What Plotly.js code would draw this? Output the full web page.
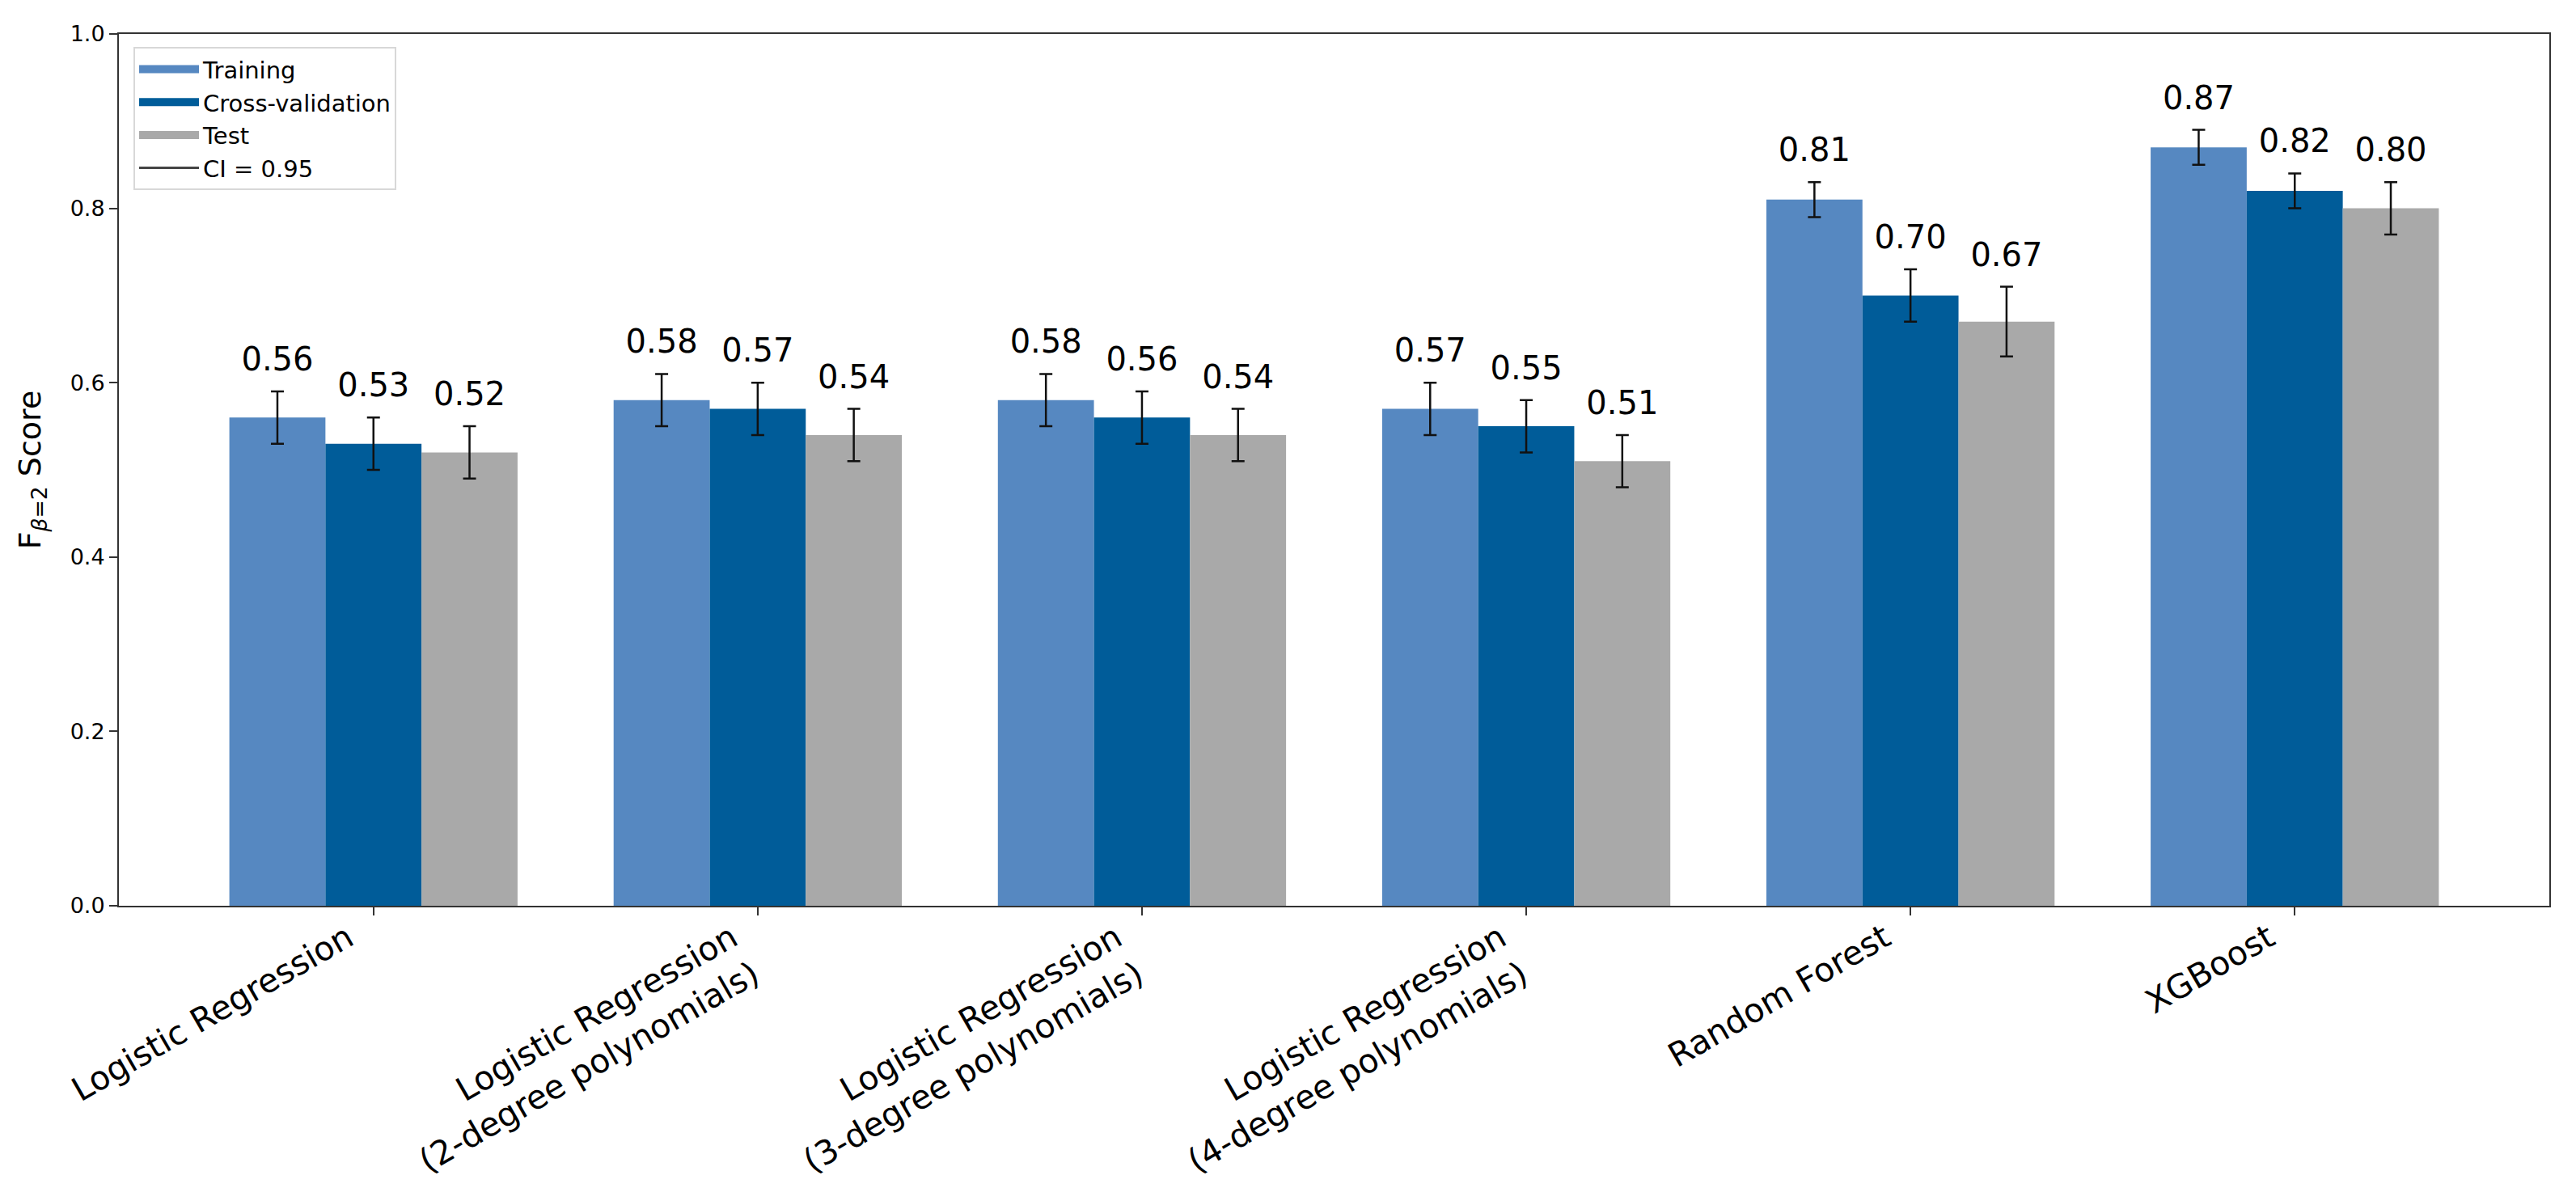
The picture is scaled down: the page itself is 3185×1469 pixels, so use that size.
<!DOCTYPE html>
<html>
<head>
<meta charset="utf-8">
<script src="https://cdn.plot.ly/plotly-3.0.1.min.js"></script>
<style>
  html, body { margin: 0; padding: 0; background: #ffffff; }
  #chart { width: 3185px; height: 1469px; }
</style>
</head>
<body>
<div id="chart"></div>
<script>
// ---- data ----
const categories = [
  "Logistic Regression",
  "Logistic Regression<br>(2-degree polynomials)",
  "Logistic Regression<br>(3-degree polynomials)",
  "Logistic Regression<br>(4-degree polynomials)",
  "Random Forest",
  "XGBoost"
];
const seriesNames = ["Training", "Cross-validation", "Test"];
const trainingScores = [0.56, 0.58, 0.58, 0.57, 0.81, 0.87];
const cvScores       = [0.53, 0.57, 0.56, 0.55, 0.70, 0.82];
const testScores     = [0.52, 0.54, 0.54, 0.51, 0.67, 0.80];
const trainingCI = [0.03, 0.03, 0.03, 0.03, 0.02, 0.02];
const cvCI       = [0.03, 0.03, 0.03, 0.03, 0.03, 0.02];
const testCI     = [0.03, 0.03, 0.03, 0.03, 0.04, 0.03];
const ciLabel = "CI = 0.95";
const yTickVals = [0.0, 0.2, 0.4, 0.6, 0.8, 1.0];

// ---- styling ----
const colors = ["#5688c1", "#005c99", "#a9a9a9"];
const FONT = "DejaVu Sans, Liberation Sans, sans-serif";
const barWidth = 0.25;
const offsets = [-barWidth, 0, barWidth];

const xIdx = categories.map((_, i) => i);
const allScores = [trainingScores, cvScores, testScores];
const allCI = [trainingCI, cvCI, testCI];

const traces = [];
allScores.forEach((vals, s) => {
  traces.push({
    type: "bar",
    name: seriesNames[s],
    x: xIdx,
    y: vals,
    marker: { color: colors[s], line: { width: 0 } },
    error_y: {
      type: "data",
      array: allCI[s],
      visible: true,
      color: "#111111",
      thickness: 2.5,
      width: 8
    },
    showlegend: false,
    hoverinfo: "y"
  });
});

// value labels above the error bars
allScores.forEach((vals, s) => {
  traces.push({
    type: "scatter",
    mode: "markers+text",
    x: xIdx.map(i => i + offsets[s]),
    y: vals.map((v, i) => v + allCI[s][i]),
    text: vals.map(v => v.toFixed(2)),
    textposition: "top center",
    textfont: { family: FONT, size: 40, color: "#000000" },
    marker: { size: 24, opacity: 0, color: "#ffffff" },
    showlegend: false,
    hoverinfo: "skip",
    cliponaxis: false
  });
});

// legend entries (wide colour swatches like the original legend)
seriesNames.forEach((name, s) => {
  traces.push({
    type: "scatter",
    mode: "lines",
    name: name,
    legendgroup: "g" + s,
    x: [null],
    y: [null],
    line: { color: colors[s], width: 10 },
    hoverinfo: "skip"
  });
});
traces.push({
  type: "scatter",
  mode: "lines",
  name: ciLabel,
  legendgroup: "ci",
  x: [null],
  y: [null],
  line: { color: "#444444", width: 3 },
  hoverinfo: "skip"
});

const layout = {
  width: 3185,
  height: 1469,
  paper_bgcolor: "#ffffff",
  plot_bgcolor: "#ffffff",
  font: { family: FONT, color: "#000000", size: 28 },
  margin: { l: 147, r: 33, t: 42, b: 349, pad: 0 },
  barmode: "group",
  bargap: 0.25,
  bargroupgap: 0,
  showlegend: true,
  legend: {
    x: 0.006,
    y: 0.985,
    xanchor: "left",
    yanchor: "top",
    bgcolor: "rgba(255,255,255,0.85)",
    bordercolor: "#d8d8d8",
    borderwidth: 2,
    font: { family: FONT, size: 29, color: "#000000" },
    tracegroupgap: 6,
    itemwidth: 74,
    traceorder: "normal"
  },
  xaxis: {
    range: [-0.6625, 5.6625],
    tickmode: "array",
    tickvals: xIdx,
    ticktext: categories,
    tickangle: -30,
    tickfont: { family: FONT, size: 41, color: "#000000" },
    ticks: "outside",
    ticklen: 10,
    tickwidth: 2,
    tickcolor: "#333333",
    ticklabelshift: -32,
    ticklabelstandoff: -12,
    showline: true,
    linecolor: "#333333",
    linewidth: 2,
    mirror: true,
    showgrid: false,
    zeroline: false
  },
  yaxis: {
    range: [0, 1],
    tickmode: "array",
    tickvals: yTickVals,
    ticktext: yTickVals.map(v => v.toFixed(1)),
    tickfont: { family: FONT, size: 27, color: "#000000" },
    ticks: "outside",
    ticklen: 10,
    tickwidth: 2,
    tickcolor: "#333333",
    showline: true,
    linecolor: "#333333",
    linewidth: 2,
    mirror: true,
    showgrid: false,
    zeroline: false,
    title: {
      text: "F<sub><i>β</i>=2</sub> Score",
      font: { family: FONT, size: 38, color: "#000000" },
      standoff: 24
    }
  }
};

Plotly.newPlot("chart", traces, layout, { displayModeBar: false, staticPlot: true });
</script>
</body>
</html>
